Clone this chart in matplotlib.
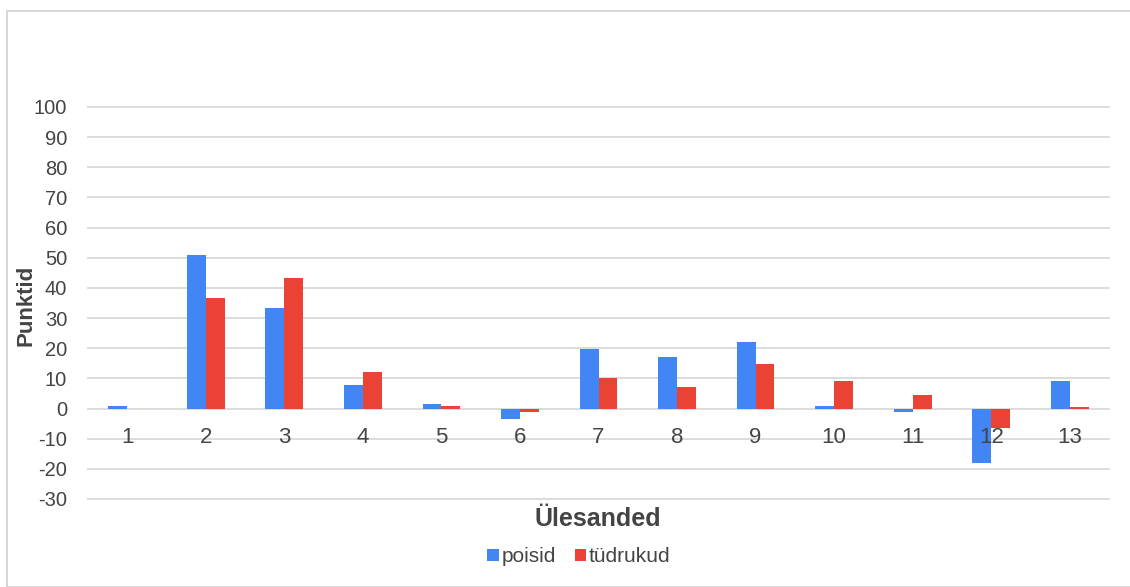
import matplotlib
matplotlib.use('Agg')
import matplotlib.pyplot as plt
from matplotlib.patches import Rectangle
from matplotlib.transforms import offset_copy
import numpy as np

plt.rcParams['font.family'] = ['Liberation Sans', 'DejaVu Sans']

# ─── andmed ────────────────────────────────────────────────────────────
ylesanded = ['1', '2', '3', '4', '5', '6', '7', '8', '9', '10', '11', '12', '13']
poisid    = [1.0, 50.9, 33.4, 7.7, 1.5, -3.5, 19.7, 17.2, 22.2, 0.9, -1.0, -18.2, 9.1]
tydrukud  = [0.0, 36.5, 43.4, 12.0, 0.8, -1.0, 10.1, 7.2, 14.7, 9.1, 4.5, -6.6, 0.6]
y_ticks   = list(range(-30, 101, 10))

BLUE = '#4285F4'
RED  = '#EA4335'
GRID = '#d9d9d9'
TXT  = '#444444'

W, H = 1130, 587
fig = plt.figure(figsize=(W / 100, H / 100), dpi=100)

# raam ümber kogu joonise
fig.patches.append(Rectangle((7 / W, 0), 1.2, 1 - 11 / H, transform=fig.transFigure,
                             fill=False, edgecolor='#d0d0d0', linewidth=1.2))

ax = fig.add_axes([88 / W, 1 - 499 / H, (1109 - 88) / W, (499 - 107) / H])

x = np.arange(len(ylesanded))
bw = 0.24
ax.bar(x - bw / 2, poisid, bw, color=BLUE, label='poisid', zorder=3)
ax.bar(x + bw / 2, tydrukud, bw, color=RED, label='tüdrukud', zorder=3)

ax.set_xlim(-0.5, len(ylesanded) - 0.5)
ax.set_ylim(-30, 100)
ax.set_yticks(y_ticks)
ax.set_yticklabels([str(v) for v in y_ticks])
ax.tick_params(axis='y', length=0, pad=15, labelsize=14.5, labelcolor=TXT)
ax.set_xticks([])
ax.grid(axis='y', color=GRID, linewidth=1.3, zorder=0)
for s in ax.spines.values():
    s.set_visible(False)
for gl in ax.get_ygridlines():
    gl.set_clip_on(False)

# ülesannete numbrid kohe nulljoone all
lab_tr = offset_copy(ax.transData, fig=fig, y=-29, units='dots')
for xi, lab in zip(x, ylesanded):
    ax.text(xi, 0, lab, transform=lab_tr, ha='center', va='center',
            fontsize=16, color=TXT, zorder=4)

fig.text(26 / W, 1 - 305 / H, 'Punktid', rotation=90, ha='center', va='center',
         fontsize=16, fontweight='bold', color=TXT)
fig.text(598 / W, 1 - 519 / H, 'Ülesanded', ha='center', va='center',
         fontsize=18, fontweight='bold', color=TXT)

fig.legend(loc='center', bbox_to_anchor=(579 / W, 1 - 557 / H), ncol=2, frameon=False,
           fontsize=15, handlelength=0.53, handleheight=0.53, handletextpad=0.15,
           columnspacing=0.9, labelcolor=TXT)

fig.savefig('out.png', dpi=100, facecolor='white')
